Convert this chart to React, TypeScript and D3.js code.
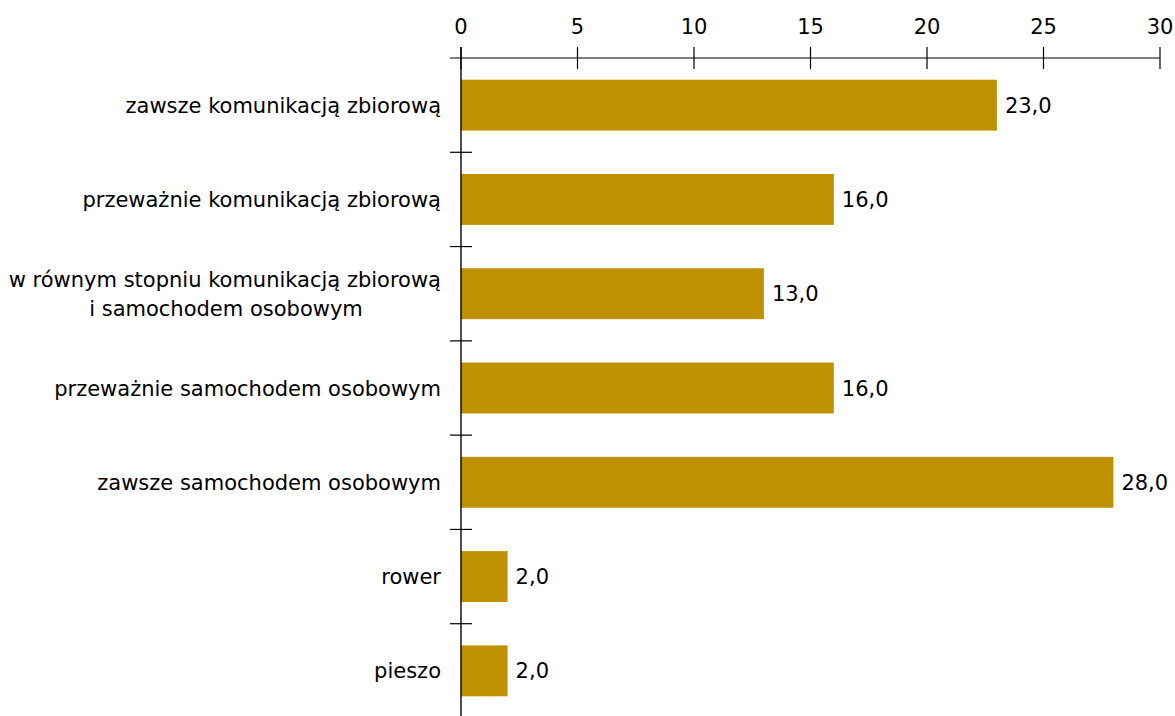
import React from "react";
import * as d3 from "d3";

const categories: string[][] = [
  ["zawsze komunikacją zbiorową"],
  ["przeważnie komunikacją zbiorową"],
  ["w równym stopniu komunikacją zbiorową", "i samochodem osobowym"],
  ["przeważnie samochodem osobowym"],
  ["zawsze samochodem osobowym"],
  ["rower"],
  ["pieszo"],
];
const values: number[] = [23, 16, 13, 16, 28, 2, 2];
const xTicks: number[] = [0, 5, 10, 15, 20, 25, 30];

const W = 1175;
const H = 716;
const FONT = "Tahoma, 'DejaVu Sans', Verdana, sans-serif";
const BAR = "#BF9000";
const FS = 21;

export default function App() {
  const x = d3.scaleLinear().domain([0, 30]).range([461, 1160]);
  const idx = categories.map((_, i) => i);
  const y = d3.scaleBand<number>().domain(idx).range([58, 718]).paddingInner(0.46).paddingOuter(0.23);
  const bandH = (718 - 58) / categories.length;
  const bandTop = (i: number) => 58 + i * bandH;

  return (
    <svg
      width={W}
      height={H}
      style={{ position: "absolute", left: 0, top: 0, background: "#fff" }}
      fontFamily={FONT}
    >
      {/* bars */}
      {values.map((v, i) => (
        <rect
          key={"b" + i}
          x={x(0)}
          y={y(i)!}
          width={x(v) - x(0)}
          height={y.bandwidth()}
          fill={BAR}
        />
      ))}
      {/* value labels */}
      {values.map((v, i) => (
        <text
          key={"v" + i}
          x={x(v) + 8}
          y={y(i)! + y.bandwidth() / 2}
          dy="0.36em"
          fontSize={FS}
          fill="#000"
        >
          {d3.format(".1f")(v).replace(".", ",")}
        </text>
      ))}
      {/* x axis on top */}
      <line x1={450} x2={x(30)} y1={58} y2={58} stroke="#000" strokeWidth={1.2} />
      {xTicks.map((t) => (
        <g key={"t" + t}>
          <line x1={x(t)} x2={x(t)} y1={47} y2={69} stroke="#000" strokeWidth={1.2} />
          <text x={x(t)} y={26} textAnchor="middle" dy="0.36em" fontSize={FS} fill="#000">
            {t}
          </text>
        </g>
      ))}
      {/* y axis */}
      <line x1={x(0)} x2={x(0)} y1={47} y2={H} stroke="#000" strokeWidth={1.4} />
      {idx.slice(1).map((i) => (
        <line
          key={"yt" + i}
          x1={450}
          x2={472}
          y1={bandTop(i)}
          y2={bandTop(i)}
          stroke="#000"
          strokeWidth={1.2}
        />
      ))}
      {/* category labels */}
      {categories.map((lines, i) => {
        const cy = bandTop(i) + bandH / 2;
        const lh = 29;
        return (
          <text key={"c" + i} x={441} textAnchor="end" fontSize={FS} fill="#000">
            {lines.length === 1 ? (
              <tspan x={441} y={cy} dy="0.36em">
                {lines[0]}
              </tspan>
            ) : (
              lines.map((ln, k) => (
                <tspan
                  key={k}
                  x={k === 0 ? 441 : 226}
                  textAnchor={k === 0 ? "end" : "middle"}
                  y={cy + (k - (lines.length - 1) / 2) * lh}
                  dy="0.36em"
                >
                  {ln}
                </tspan>
              ))
            )}
          </text>
        );
      })}
    </svg>
  );
}
